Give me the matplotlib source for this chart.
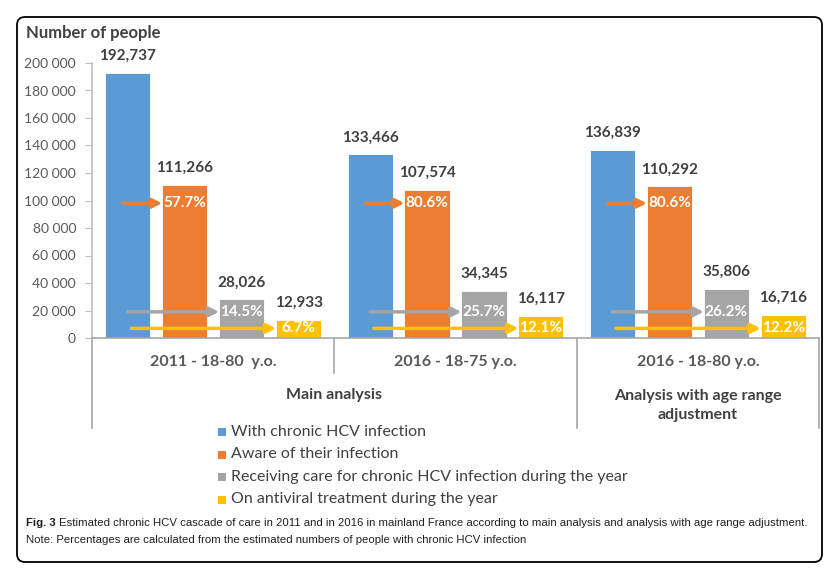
import matplotlib.pyplot as plt
from matplotlib.patches import Rectangle, FancyBboxPatch

plt.rcParams['font.family'] = ['Lato', 'DejaVu Sans']

groups = ["2011 - 18-80  y.o.", "2016 - 18-75 y.o.", "2016 - 18-80 y.o."]
analyses = ["Main analysis", "Analysis with age range\nadjustment"]
series = ["With chronic HCV infection", "Aware of their infection",
          "Receiving care for chronic HCV infection during the year",
          "On antiviral treatment during the year"]
chronic = [192737, 133466, 136839]
aware = [111266, 107574, 110292]
care = [28026, 34345, 35806]
treated = [12933, 16117, 16716]
values = [chronic, aware, care, treated]
colors = ["#5B9BD5", "#ED7D31", "#A5A5A5", "#FFC000"]

W, H = 838, 577
def fx(px): return px / W
def fy(py): return 1 - py / H

fig = plt.figure(figsize=(W / 100, H / 100), dpi=100)
ax = fig.add_axes([fx(92), fy(338), fx(819) - fx(92), fy(63) - fy(338)])

# outer frame
fig.patches.append(FancyBboxPatch((0.17, 0.15), 8.05, 5.45, boxstyle="round,pad=0,rounding_size=0.08",
                                  transform=fig.dpi_scale_trans, fill=False, ec="black", lw=1.3))

step, width = 0.235, 0.186
offsets = [-1.5 * step, -0.5 * step, 0.5 * step, 1.5 * step]
x = range(len(groups))
for s, (vals, c) in enumerate(zip(values, colors)):
    xs = [i + offsets[s] for i in x]
    ax.bar(xs, vals, width, color=c, edgecolor="white", linewidth=0.6, zorder=2)
    for xi, v in zip(xs, vals):
        ax.annotate(f"{v:,}", (xi, v), xytext=(0, 17), textcoords="offset pixels",
                    ha="center", va="center", fontsize=11, fontweight="bold", color="#404040")

# arrows + percentages relative to chronic infection
arrow_y = [98000, 19000, 7000]
arrow_start = [-0.02, 0.0, 0.015]
for s in range(1, 4):
    for i in x:
        pct = values[s][i] / chronic[i] * 100
        xt = i + offsets[s]
        ax.annotate("", xy=(xt - width / 2, arrow_y[s - 1]),
                    xytext=(i + offsets[0] + arrow_start[s - 1], arrow_y[s - 1]),
                    arrowprops=dict(arrowstyle="-|>", color=colors[s], lw=2.5,
                                    mutation_scale=14, shrinkA=0, shrinkB=0), zorder=3)
        ax.text(xt, arrow_y[s - 1], f"{pct:.1f}%", ha="center", va="center",
                fontsize=11, fontweight="bold", color="white", zorder=4)

ax.set_xlim(-0.5, 2.5)
ax.set_ylim(0, 200000)
ax.set_yticks(range(0, 200001, 20000))
ax.set_yticklabels([f"{v:,}".replace(",", " ") for v in range(0, 200001, 20000)])
ax.set_xticks([])
for sp in ["top", "right"]:
    ax.spines[sp].set_visible(False)
ax.spines["left"].set_color("#BFBFBF")
ax.spines["bottom"].set_color("#A6A6A6")
ax.spines["left"].set_linewidth(1.2)
ax.spines["bottom"].set_linewidth(1.2)
ax.tick_params(axis="y", length=5, color="#BFBFBF", labelcolor="#595959", labelsize=10, pad=6.5)

# category separators and labels
tr = ax.get_xaxis_transform()
for xv, low in [(-0.5, -0.327), (0.5, -0.127), (1.5, -0.327), (2.5, -0.327)]:
    ax.plot([xv, xv], [0, low], transform=tr, clip_on=False, color="#A6A6A6", lw=1.2)
for i, g in enumerate(groups):
    ax.text(i, -0.087, g, transform=tr, ha="center", va="center",
            fontsize=11.5, fontweight="bold", color="#595959")
ax.text(0.5, -0.207, analyses[0], transform=tr, ha="center", va="center",
        fontsize=11.5, fontweight="bold", color="#404040")
ax.text(2, -0.247, analyses[1], transform=tr, ha="center", va="center",
        fontsize=11.5, fontweight="bold", color="#404040", linespacing=1.45)

fig.text(fx(26), fy(33), "Number of people", ha="left", va="center",
         fontsize=12, fontweight="bold", color="#404040")

# legend
for k, (name, c) in enumerate(zip(series, colors)):
    yc = 432 + k * 22.5
    fig.patches.append(Rectangle((fx(218), fy(yc + 4)), fx(8), 8 / H, transform=fig.transFigure,
                                 facecolor=c, edgecolor="none"))
    fig.text(fx(231), fy(yc), name, ha="left", va="center", fontsize=11.5, color="#404040")

# caption
cap_font = ['Liberation Sans', 'DejaVu Sans']
t1 = fig.text(fx(26), fy(523), "Fig. 3", ha="left", va="center", fontsize=8.2,
              fontweight="bold", family=cap_font, color="#231F20")
fig.text(fx(26), fy(540), "Note: Percentages are calculated from the estimated numbers of people with chronic HCV infection",
         ha="left", va="center", fontsize=8.2, family=cap_font, color="#231F20")
ax.annotate(" Estimated chronic HCV cascade of care in 2011 and in 2016 in mainland France according to main analysis and analysis with age range adjustment.",
            xy=(1, 0.5), xycoords=t1, ha="left", va="center", fontsize=8.2,
            family=cap_font, color="#231F20", annotation_clip=False)

fig.savefig("out.png", dpi=100)
